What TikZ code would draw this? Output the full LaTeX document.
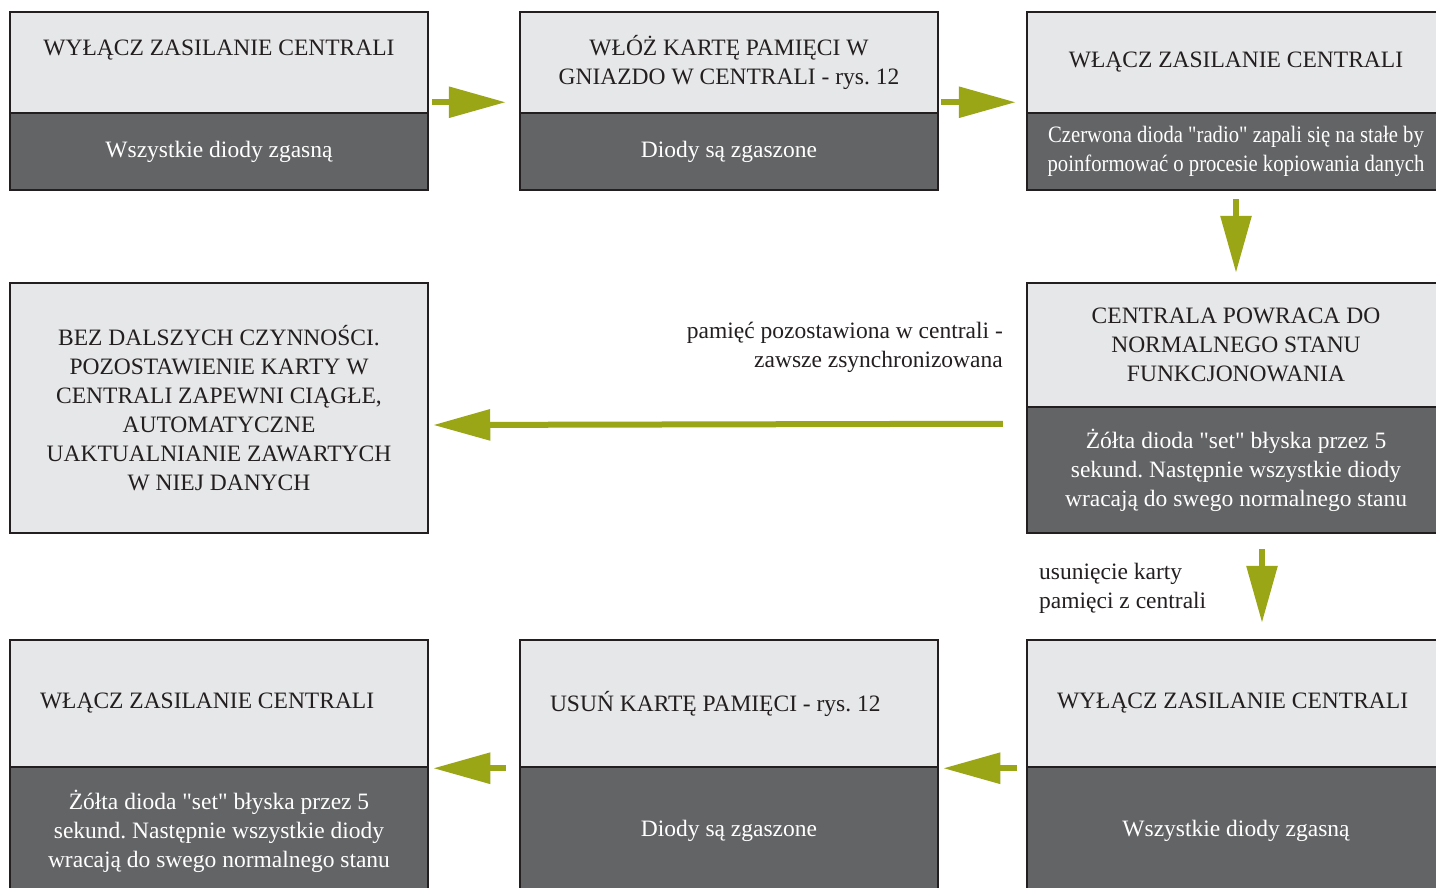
\documentclass[tikz,border=0pt]{standalone}
\usepackage{fontspec}
\setmainfont{Liberation Serif}[Ligatures=TeXOff]
\newfontfamily\narrowfont[FakeStretch=0.88]{Liberation Serif}
\usetikzlibrary{arrows.meta}
\definecolor{boxlight}{RGB}{230,231,232}
\definecolor{boxdark}{RGB}{99,100,102}
\definecolor{boxline}{RGB}{35,31,32}
\definecolor{arrowgreen}{RGB}{155,166,23}
\frenchspacing

\begin{document}
\begin{tikzpicture}[x=1pt, y=-1pt,
  part/.style={draw=boxline, line width=2.5pt, minimum width=418pt, align=center, inner sep=0pt, font=\fontsize{23.5}{29}\selectfont},
  upper/.style={part, fill=boxlight, text=boxline},
  lower/.style={part, fill=boxdark, text=white},
  leftset/.style={inner xsep=30pt, text width=358pt, align=flush left},
  flow/.style={draw=arrowgreen, line width=6pt, -{Triangle[length=57pt, width=30pt]}},
  note/.style={inner sep=0pt, text=boxline, font=\fontsize{23.5}{29}\selectfont}]
\clip (0,0) rectangle (1436,888);
\fill[white] (0,0) rectangle (1436,888);
\node[upper, minimum height=101pt] (a1) at (219,62.5) {WYŁĄCZ ZASILANIE CENTRALI\\ \mbox{}};
\node[lower, minimum height=77pt] (a2) at (219,151.5) {Wszystkie diody zgasną};
\node[upper, minimum height=101pt] (b1) at (729,62.5) {WŁÓŻ KARTĘ PAMIĘCI W\\GNIAZDO W CENTRALI - rys. 12};
\node[lower, minimum height=77pt] (b2) at (729,151.5) {Diody są zgaszone};
\node[upper, minimum height=101pt] (c1) at (1236,62.5) {WŁĄCZ ZASILANIE CENTRALI};
\node[lower, minimum height=77pt, font=\fontsize{23.5}{29}\narrowfont] (c2) at (1236,151.5) {Czerwona dioda "radio" zapali się na stałe by\\poinformować o procesie kopiowania danych};
\node[upper, minimum height=250pt] (d) at (219,408) {BEZ DALSZYCH CZYNNOŚCI.\\POZOSTAWIENIE KARTY W\\CENTRALI ZAPEWNI CIĄGŁE,\\AUTOMATYCZNE\\UAKTUALNIANIE ZAWARTYCH\\W NIEJ DANYCH};
\node[upper, minimum height=124pt] (e1) at (1236,345) {CENTRALA POWRACA DO\\NORMALNEGO STANU\\FUNKCJONOWANIA};
\node[lower, minimum height=126pt] (e2) at (1236,470) {Żółta dioda "set" błyska przez 5\\sekund. Następnie wszystkie diody\\wracają do swego normalnego stanu};
\node[upper, leftset, minimum height=127pt] (f1) at (219,703.5) {WŁĄCZ ZASILANIE CENTRALI};
\node[lower, minimum height=128pt] (f2) at (219,831) {Żółta dioda "set" błyska przez 5\\sekund. Następnie wszystkie diody\\wracają do swego normalnego stanu};
\node[upper, leftset, minimum height=127pt] (g1) at (729,703.5) {USUŃ KARTĘ PAMIĘCI - rys. 12};
\node[lower, minimum height=128pt] (g2) at (729,831) {Diody są zgaszone};
\node[upper, leftset, minimum height=127pt] (h1) at (1236,703.5) {WYŁĄCZ ZASILANIE CENTRALI};
\node[lower, minimum height=128pt] (h2) at (1236,831) {Wszystkie diody zgasną};
\node[note, anchor=east, align=right] (keep) at (1003,347) {pamięć pozostawiona w centrali -\\zawsze zsynchronizowana};
\node[note, anchor=west, align=left] (removed) at (1039,588) {usunięcie karty\\pamięci z centrali};
\draw[flow] ([shift={(3,-12)}]a1.south east) -- ([shift={(-13,-12)}]b1.south west);
\draw[flow] ([shift={(2,-12)}]b1.south east) -- ([shift={(-10,-12)}]c1.south west);
\draw[flow] ([shift={(0,8)}]c2.south) -- ([shift={(0,-9)}]e1.north);
\draw[flow] ([shift={(-23,18)}]e2.north west) -- ([shift={(4,17)}]d.east);
\draw[flow] ([shift={(26,15)}]e2.south) -- ([shift={(26,-16)}]h1.north);
\draw[flow] ([shift={(-9,0)}]h1.south west) -- ([shift={(4,0)}]g1.south east);
\draw[flow] ([shift={(-13,0)}]g1.south west) -- ([shift={(4,0)}]f1.south east);
\end{tikzpicture}
\end{document}
